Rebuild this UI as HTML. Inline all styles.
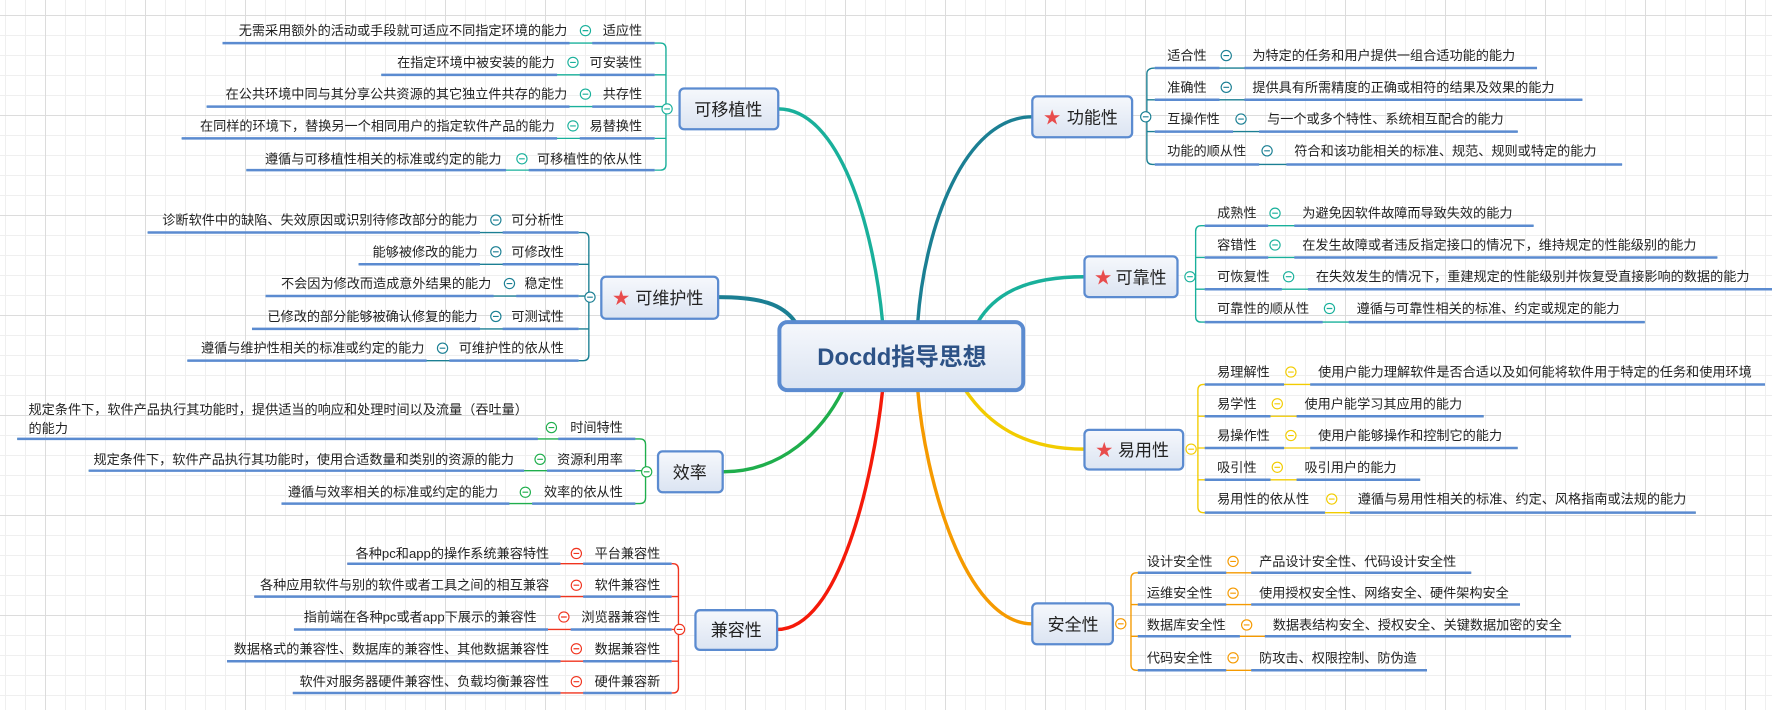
<!DOCTYPE html>
<html><head><meta charset="utf-8">
<style>
html,body{margin:0;padding:0;width:1772px;height:710px;overflow:hidden;background:#fff;
background-image:linear-gradient(#dcdcdc 1px,transparent 1px),linear-gradient(90deg,#dcdcdc 1px,transparent 1px),linear-gradient(#efefef 1px,transparent 1px),linear-gradient(90deg,#efefef 1px,transparent 1px);
background-size:100px 100px,100px 100px,20px 20px,20px 20px;background-position:45px 15px,45px 15px,5px 15px,5px 15px;}
svg{position:absolute;left:0;top:0}
text{font-family:"Liberation Sans","Noto Sans CJK SC",sans-serif;fill:#222}
.l{font-size:11.6px}
.b{font-size:15px}
</style></head><body>
<svg width="1772" height="710" viewBox="0 0 1562 626">
<defs>
<linearGradient id="g" x1="0" y1="0" x2="0" y2="1"><stop offset="0" stop-color="#f6f8fc"/><stop offset="1" stop-color="#dbe4f2"/></linearGradient>
</defs>
<g fill="none" stroke-linecap="round">
<path d="M686,96 C740,96 770,200 778,284" stroke="#19b09b" stroke-width="3"/>
<path d="M633,262 C670,262 690,268 701,284" stroke="#1b7f93" stroke-width="3.5"/>
<path d="M637,416 C690,416 725,380 743,344" stroke="#1fae4c" stroke-width="3"/>
<path d="M685,555 C740,555 770,420 778,344" stroke="#f51a0a" stroke-width="3"/>
<path d="M910,103 C850,103 815,200 809,284" stroke="#1b7f93" stroke-width="3"/>
<path d="M956,244 C900,244 875,262 862,284" stroke="#19b09b" stroke-width="3"/>
<path d="M956,396 C900,396 870,372 851,344" stroke="#f2cc00" stroke-width="3"/>
<path d="M910,550 C850,550 815,420 809,344" stroke="#f59a00" stroke-width="3"/>
</g>
<rect x="687" y="284" width="215" height="60" rx="7" fill="url(#g)" stroke="#5b8bd0" stroke-width="3.5"/>
<text x="795" y="315" text-anchor="middle" dominant-baseline="central" style="font-size:21px;font-weight:bold;fill:#2d5286">Docdd指导思想</text>

<g stroke="#5b8bd0" stroke-width="2" fill="url(#g)">
<rect x="599" y="78" width="87" height="36" rx="4"/>
<rect x="530" y="244" width="103" height="37" rx="4"/>
<rect x="580" y="398" width="57" height="36" rx="4"/>
<rect x="613" y="538" width="72" height="35" rx="4"/>
<rect x="910" y="85" width="88" height="36" rx="4"/>
<rect x="956" y="226" width="82" height="36" rx="4"/>
<rect x="956" y="379" width="87" height="35" rx="4"/>
<rect x="910" y="532" width="71" height="36" rx="4"/>
</g>
<g>
<text class="b" x="642" y="97" text-anchor="middle" dominant-baseline="central">可移植性</text>
<text class="b" x="590" y="263" text-anchor="middle" dominant-baseline="central">可维护性</text>
<text class="b" x="608" y="417" text-anchor="middle" dominant-baseline="central">效率</text>
<text class="b" x="649" y="556" text-anchor="middle" dominant-baseline="central">兼容性</text>
<text class="b" x="963" y="104" text-anchor="middle" dominant-baseline="central">功能性</text>
<text class="b" x="1006" y="245" text-anchor="middle" dominant-baseline="central">可靠性</text>
<text class="b" x="1008" y="397" text-anchor="middle" dominant-baseline="central">易用性</text>
<text class="b" x="946" y="551" text-anchor="middle" dominant-baseline="central">安全性</text>
</g>
<g>
<text x="540" y="263" dominant-baseline="central" style="fill:#e84c4c;font-size:15px">★</text>
<text x="920" y="104" dominant-baseline="central" style="fill:#e84c4c;font-size:15px">★</text>
<text x="965" y="245" dominant-baseline="central" style="fill:#e84c4c;font-size:15px">★</text>
<text x="966" y="397" dominant-baseline="central" style="fill:#e84c4c;font-size:15px">★</text>
</g>

<g fill="none" stroke-width="1.2">
<path d="M577,38 H582 Q587,38 587,43 V145 Q587,150 582,150 H577 M577,66H587 M577,94H587 M577,122H587" stroke="#19b09b"/>
<path d="M510,205 H514 Q519,205 519,210 V313 Q519,318 514,318 H510 M510,233H519 M510,261H519 M510,290H519" stroke="#1b7f93"/>
<path d="M560,387 H564 Q569,387 569,392 V439 Q569,444 564,444 H560 M560,415H569" stroke="#1fae4c"/>
<path d="M592,497 H593 Q598,497 598,502 V606 Q598,611 593,611 H592 M592,526H598 M592,555H598 M592,583H598" stroke="#f0341f"/>
<path d="M1018,60 Q1011,60 1011,65 V140 Q1011,145 1016,145 H1018 M1011,88H1018 M1011,116H1018" stroke="#1b7f93"/>
<path d="M1062,199 H1059 Q1054,199 1054,204 V279 Q1054,284 1059,284 H1062 M1054,227H1062 M1054,255H1062" stroke="#19b09b"/>
<path d="M1062,339 H1061 Q1056,339 1056,344 V447 Q1056,452 1061,452 H1062 M1056,367H1062 M1056,395H1062 M1056,423H1062" stroke="#f2cc00"/>
<path d="M1003,505 H1002 Q997,505 997,510 V586 Q997,591 1002,591 H1003 M997,533H1003 M997,561H1003" stroke="#f59a00"/>
</g>
<g stroke-width="1.2">
<path stroke="#19b09b" d="M196,38H577 M336,66H577 M182,94H577 M160,122H577 M217,150H577"/>
<path stroke="#1b7f93" d="M130,205H510 M316,233H510 M234,261H510 M222,290H510 M165,318H510"/>
<path stroke="#1fae4c" d="M15,387H560 M78,415H560 M248,444H560"/>
<path stroke="#f0341f" d="M306,497H592 M224,526H592 M259,555H592 M200,583H592 M258,611H592"/>
<path stroke="#1b7f93" d="M1018,60H1355 M1018,88H1395 M1018,116H1338 M1018,145H1430"/>
<path stroke="#19b09b" d="M1062,199H1352 M1062,227H1514 M1062,255H1566 M1062,284H1450"/>
<path stroke="#f2cc00" d="M1062,339H1556 M1062,367H1308 M1062,395H1338 M1062,423H1252 M1062,452H1495"/>
<path stroke="#f59a00" d="M1003,505H1297 M1003,533H1340 M1003,561H1385 M1003,591H1258"/>
</g>
<g stroke="#5b8bd0" stroke-width="2.2">
<path d="M196,38H502 M522,38H577 M336,66H491 M511,66H577 M182,94H502 M522,94H577 M160,122H491 M511,122H577 M217,150H446 M466,150H577"/>
<path d="M130,205H423 M443,205H510 M316,233H423 M443,233H510 M234,261H435 M455,261H510 M222,290H423 M443,290H510 M165,318H376 M396,318H510"/>
<path d="M15,387H474 M492,387H560 M78,415H462 M482,415H560 M248,444H449 M469,444H560"/>
<path d="M306,497H494 M514,497H592 M224,526H494 M514,526H592 M259,555H483 M503,555H592 M200,583H494 M514,583H592 M258,611H494 M514,611H592"/>
<path d="M1018,60H1075 M1097,60H1355 M1018,88H1075 M1097,88H1395 M1018,116H1087 M1110,116H1338 M1018,145H1110 M1134,145H1430"/>
<path d="M1062,199H1118 M1141,199H1352 M1062,227H1118 M1141,227H1514 M1062,255H1130 M1153,255H1566 M1062,284H1166 M1189,284H1450"/>
<path d="M1062,339H1132 M1155,339H1556 M1062,367H1120 M1143,367H1308 M1062,395H1132 M1155,395H1338 M1062,423H1120 M1143,423H1252 M1062,452H1168 M1190,452H1495"/>
<path d="M1003,505H1081 M1103,505H1297 M1003,533H1081 M1103,533H1340 M1003,561H1093 M1115,561H1385 M1003,591H1081 M1103,591H1258"/>
</g>
<g fill="#fff" stroke-width="1">
<g stroke="#19b09b"><circle cx="516" cy="27" r="4.5"/><circle cx="505" cy="55" r="4.5"/><circle cx="516" cy="83" r="4.5"/><circle cx="505" cy="111" r="4.5"/><circle cx="460" cy="140" r="4.5"/><circle cx="588" cy="96" r="4.5"/>
<path d="M513.5,27h5M502.5,55h5M513.5,83h5M502.5,111h5M457.5,140h5M585.5,96h5"/></g>
<g stroke="#1b7f93"><circle cx="437" cy="194" r="4.5"/><circle cx="437" cy="222" r="4.5"/><circle cx="449" cy="250" r="4.5"/><circle cx="437" cy="279" r="4.5"/><circle cx="390" cy="307" r="4.5"/><circle cx="520" cy="262" r="4.5"/>
<path d="M434.5,194h5M434.5,222h5M446.5,250h5M434.5,279h5M387.5,307h5M517.5,262h5"/></g>
<g stroke="#1fae4c"><circle cx="486" cy="377" r="4.5"/><circle cx="476" cy="405" r="4.5"/><circle cx="463" cy="434" r="4.5"/><circle cx="570" cy="416" r="4.5"/>
<path d="M483.5,377h5M473.5,405h5M460.5,434h5M567.5,416h5"/></g>
<g stroke="#f0341f"><circle cx="508" cy="488" r="4.5"/><circle cx="508" cy="516" r="4.5"/><circle cx="497" cy="544" r="4.5"/><circle cx="508" cy="572" r="4.5"/><circle cx="508" cy="601" r="4.5"/><circle cx="599" cy="555" r="4.5"/>
<path d="M505.5,488h5M505.5,516h5M494.5,544h5M505.5,572h5M505.5,601h5M596.5,555h5"/></g>
<g stroke="#1b7f93"><circle cx="1081" cy="49" r="4.5"/><circle cx="1081" cy="77" r="4.5"/><circle cx="1094" cy="105" r="4.5"/><circle cx="1117" cy="133" r="4.5"/><circle cx="1010" cy="103" r="4.5"/>
<path d="M1078.5,49h5M1078.5,77h5M1091.5,105h5M1114.5,133h5M1007.5,103h5"/></g>
<g stroke="#19b09b"><circle cx="1124" cy="188" r="4.5"/><circle cx="1124" cy="216" r="4.5"/><circle cx="1136" cy="244" r="4.5"/><circle cx="1172" cy="272" r="4.5"/><circle cx="1049" cy="244" r="4.5"/>
<path d="M1121.5,188h5M1121.5,216h5M1133.5,244h5M1169.5,272h5M1046.5,244h5"/></g>
<g stroke="#f2cc00"><circle cx="1138" cy="328" r="4.5"/><circle cx="1126" cy="356" r="4.5"/><circle cx="1138" cy="384" r="4.5"/><circle cx="1126" cy="412" r="4.5"/><circle cx="1174" cy="440" r="4.5"/><circle cx="1050" cy="396" r="4.5"/>
<path d="M1135.5,328h5M1123.5,356h5M1135.5,384h5M1123.5,412h5M1171.5,440h5M1047.5,396h5"/></g>
<g stroke="#f59a00"><circle cx="1087" cy="495" r="4.5"/><circle cx="1087" cy="523" r="4.5"/><circle cx="1099" cy="551" r="4.5"/><circle cx="1087" cy="580" r="4.5"/><circle cx="988" cy="550" r="4.5"/>
<path d="M1084.5,495h5M1084.5,523h5M1096.5,551h5M1084.5,580h5M985.5,550h5"/></g>
</g>

<g>
<text class="l" x="566" y="27" text-anchor="end" dominant-baseline="central">适应性</text>
<text class="l" x="500" y="27" text-anchor="end" dominant-baseline="central">无需采用额外的活动或手段就可适应不同指定环境的能力</text>
<text class="l" x="566" y="55" text-anchor="end" dominant-baseline="central">可安装性</text>
<text class="l" x="489" y="55" text-anchor="end" dominant-baseline="central">在指定环境中被安装的能力</text>
<text class="l" x="566" y="83" text-anchor="end" dominant-baseline="central">共存性</text>
<text class="l" x="500" y="83" text-anchor="end" dominant-baseline="central">在公共环境中同与其分享公共资源的其它独立件共存的能力</text>
<text class="l" x="566" y="111" text-anchor="end" dominant-baseline="central">易替换性</text>
<text class="l" x="489" y="111" text-anchor="end" dominant-baseline="central">在同样的环境下，替换另一个相同用户的指定软件产品的能力</text>
<text class="l" x="566" y="140" text-anchor="end" dominant-baseline="central">可移植性的依从性</text>
<text class="l" x="442" y="140" text-anchor="end" dominant-baseline="central">遵循与可移植性相关的标准或约定的能力</text>

<text class="l" x="497" y="194" text-anchor="end" dominant-baseline="central">可分析性</text>
<text class="l" x="421" y="194" text-anchor="end" dominant-baseline="central">诊断软件中的缺陷、失效原因或识别待修改部分的能力</text>
<text class="l" x="497" y="222" text-anchor="end" dominant-baseline="central">可修改性</text>
<text class="l" x="421" y="222" text-anchor="end" dominant-baseline="central">能够被修改的能力</text>
<text class="l" x="497" y="250" text-anchor="end" dominant-baseline="central">稳定性</text>
<text class="l" x="433" y="250" text-anchor="end" dominant-baseline="central">不会因为修改而造成意外结果的能力</text>
<text class="l" x="497" y="279" text-anchor="end" dominant-baseline="central">可测试性</text>
<text class="l" x="421" y="279" text-anchor="end" dominant-baseline="central">已修改的部分能够被确认修复的能力</text>
<text class="l" x="497" y="307" text-anchor="end" dominant-baseline="central">可维护性的依从性</text>
<text class="l" x="374" y="307" text-anchor="end" dominant-baseline="central">遵循与维护性相关的标准或约定的能力</text>

<text class="l" x="549" y="377" text-anchor="end" dominant-baseline="central">时间特性</text>
<text class="l" x="25" y="361" text-anchor="start" dominant-baseline="central">规定条件下，软件产品执行其功能时，提供适当的响应和处理时间以及流量（吞吐量）</text>
<text class="l" x="25" y="378" text-anchor="start" dominant-baseline="central">的能力</text>
<text class="l" x="549" y="405" text-anchor="end" dominant-baseline="central">资源利用率</text>
<text class="l" x="453" y="405" text-anchor="end" dominant-baseline="central">规定条件下，软件产品执行其功能时，使用合适数量和类别的资源的能力</text>
<text class="l" x="549" y="434" text-anchor="end" dominant-baseline="central">效率的依从性</text>
<text class="l" x="439" y="434" text-anchor="end" dominant-baseline="central">遵循与效率相关的标准或约定的能力</text>

<text class="l" x="582" y="488" text-anchor="end" dominant-baseline="central">平台兼容性</text>
<text class="l" x="484" y="488" text-anchor="end" dominant-baseline="central">各种pc和app的操作系统兼容特性</text>
<text class="l" x="582" y="516" text-anchor="end" dominant-baseline="central">软件兼容性</text>
<text class="l" x="484" y="516" text-anchor="end" dominant-baseline="central">各种应用软件与别的软件或者工具之间的相互兼容</text>
<text class="l" x="582" y="544" text-anchor="end" dominant-baseline="central">浏览器兼容性</text>
<text class="l" x="473" y="544" text-anchor="end" dominant-baseline="central">指前端在各种pc或者app下展示的兼容性</text>
<text class="l" x="582" y="572" text-anchor="end" dominant-baseline="central">数据兼容性</text>
<text class="l" x="484" y="572" text-anchor="end" dominant-baseline="central">数据格式的兼容性、数据库的兼容性、其他数据兼容性</text>
<text class="l" x="582" y="601" text-anchor="end" dominant-baseline="central">硬件兼容新</text>
<text class="l" x="484" y="601" text-anchor="end" dominant-baseline="central">软件对服务器硬件兼容性、负载均衡兼容性</text>
</g>

<g>
<text class="l" x="1029" y="49" dominant-baseline="central">适合性</text>
<text class="l" x="1104" y="49" dominant-baseline="central">为特定的任务和用户提供一组合适功能的能力</text>
<text class="l" x="1029" y="77" dominant-baseline="central">准确性</text>
<text class="l" x="1104" y="77" dominant-baseline="central">提供具有所需精度的正确或相符的结果及效果的能力</text>
<text class="l" x="1029" y="105" dominant-baseline="central">互操作性</text>
<text class="l" x="1117" y="105" dominant-baseline="central">与一个或多个特性、系统相互配合的能力</text>
<text class="l" x="1029" y="133" dominant-baseline="central">功能的顺从性</text>
<text class="l" x="1141" y="133" dominant-baseline="central">符合和该功能相关的标准、规范、规则或特定的能力</text>

<text class="l" x="1073" y="188" dominant-baseline="central">成熟性</text>
<text class="l" x="1148" y="188" dominant-baseline="central">为避免因软件故障而导致失效的能力</text>
<text class="l" x="1073" y="216" dominant-baseline="central">容错性</text>
<text class="l" x="1148" y="216" dominant-baseline="central">在发生故障或者违反指定接口的情况下，维持规定的性能级别的能力</text>
<text class="l" x="1073" y="244" dominant-baseline="central">可恢复性</text>
<text class="l" x="1160" y="244" dominant-baseline="central">在失效发生的情况下，重建规定的性能级别并恢复受直接影响的数据的能力</text>
<text class="l" x="1073" y="272" dominant-baseline="central">可靠性的顺从性</text>
<text class="l" x="1196" y="272" dominant-baseline="central">遵循与可靠性相关的标准、约定或规定的能力</text>

<text class="l" x="1073" y="328" dominant-baseline="central">易理解性</text>
<text class="l" x="1162" y="328" dominant-baseline="central">使用户能力理解软件是否合适以及如何能将软件用于特定的任务和使用环境</text>
<text class="l" x="1073" y="356" dominant-baseline="central">易学性</text>
<text class="l" x="1150" y="356" dominant-baseline="central">使用户能学习其应用的能力</text>
<text class="l" x="1073" y="384" dominant-baseline="central">易操作性</text>
<text class="l" x="1162" y="384" dominant-baseline="central">使用户能够操作和控制它的能力</text>
<text class="l" x="1073" y="412" dominant-baseline="central">吸引性</text>
<text class="l" x="1150" y="412" dominant-baseline="central">吸引用户的能力</text>
<text class="l" x="1073" y="440" dominant-baseline="central">易用性的依从性</text>
<text class="l" x="1197" y="440" dominant-baseline="central">遵循与易用性相关的标准、约定、风格指南或法规的能力</text>

<text class="l" x="1011" y="495" dominant-baseline="central">设计安全性</text>
<text class="l" x="1110" y="495" dominant-baseline="central">产品设计安全性、代码设计安全性</text>
<text class="l" x="1011" y="523" dominant-baseline="central">运维安全性</text>
<text class="l" x="1110" y="523" dominant-baseline="central">使用授权安全性、网络安全、硬件架构安全</text>
<text class="l" x="1011" y="551" dominant-baseline="central">数据库安全性</text>
<text class="l" x="1122" y="551" dominant-baseline="central">数据表结构安全、授权安全、关键数据加密的安全</text>
<text class="l" x="1011" y="580" dominant-baseline="central">代码安全性</text>
<text class="l" x="1110" y="580" dominant-baseline="central">防攻击、权限控制、防伪造</text>
</g>
</svg>
</body></html>
